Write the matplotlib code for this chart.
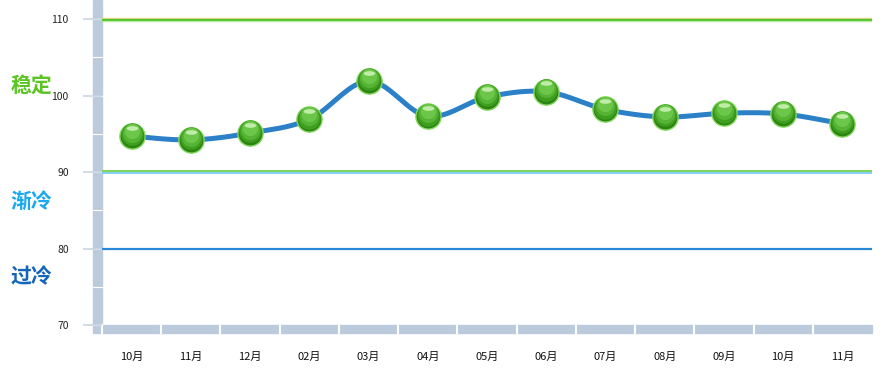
import numpy as np
import matplotlib
matplotlib.use('Agg')
import matplotlib.pyplot as plt
from matplotlib.patches import Rectangle
from matplotlib.path import Path
from matplotlib.transforms import offset_copy, blended_transform_factory, Affine2D

plt.rcParams['font.family'] = ['Noto Sans CJK SC', 'DejaVu Sans']

months = ['10月', '11月', '12月', '02月', '03月', '04月', '05月',
          '06月', '07月', '08月', '09月', '10月', '11月']
values = [94.7, 94.2, 95.1, 96.9, 101.9, 97.3, 99.8,
          100.5, 98.2, 97.2, 97.7, 97.6, 96.3]
y_ticks = [70, 80, 90, 100, 110]
zones = ['稳定', '渐冷', '过冷']
zone_colors = ['#5cc423', '#1aa8ee', '#1464b8']


def smooth(xs, ys, n=20):
    # catmull-rom through the points, only for drawing the spline
    xs = np.asarray(xs, float)
    ys = np.asarray(ys, float)
    px = np.concatenate([[xs[0]], xs, [xs[-1]]])
    py = np.concatenate([[ys[0]], ys, [ys[-1]]])
    out_x, out_y = [], []
    t = np.linspace(0, 1, n, endpoint=False)
    for i in range(1, len(px) - 2):
        for p, out in ((px, out_x), (py, out_y)):
            p0, p1, p2, p3 = p[i - 1], p[i], p[i + 1], p[i + 2]
            m1 = (p2 - p0) / 2
            m2 = (p3 - p1) / 2
            h00 = 2 * t**3 - 3 * t**2 + 1
            h10 = t**3 - 2 * t**2 + t
            h01 = -2 * t**3 + 3 * t**2
            h11 = t**3 - t**2
            out.extend(h00 * p1 + h10 * m1 + h01 * p2 + h11 * m2)
    out_x.append(xs[-1])
    out_y.append(ys[-1])
    return np.array(out_x), np.array(out_y)


W, H = 890, 379
fig = plt.figure(figsize=(W / 100, H / 100), dpi=100)
left, right, bottom = 102, 872, 325
ax = fig.add_axes([left / W, 1 - bottom / H, (right - left) / W, bottom / H])
ax.set_xlim(-0.5, len(months) - 0.5)
ax.set_ylim(70, 112.5)
for s in ax.spines.values():
    s.set_visible(False)

x = np.arange(len(months))

# gray axis bars
bar = '#bccbdc'
aw, ah = right - left, bottom
ax.add_patch(Rectangle((-9 / aw, -8 / ah), 9 / aw, 1 + 8 / ah, transform=ax.transAxes,
                       color=bar, clip_on=False, zorder=0))
ax.add_patch(Rectangle((0, -8 / ah), 1, 8 / ah, transform=ax.transAxes,
                       color=bar, clip_on=False, zorder=0))
tr_y = blended_transform_factory(ax.transAxes, ax.transData)
for v in range(70, 115, 5):
    ax.plot([-9 / aw, 0], [v, v], transform=tr_y, color='white', lw=0.8,
            clip_on=False, zorder=1)
tr_x = blended_transform_factory(ax.transData, ax.transAxes)
for k in range(len(months)):
    ax.plot([k - 0.5, k - 0.5], [-8 / ah, 0], transform=tr_x, color='white',
            lw=1.5, clip_on=False, zorder=1)

# threshold lines
ax.axhline(110.15, color='#f3d98c', lw=1.0, zorder=2)
ax.axhline(109.95, color='#4cc42a', lw=1.6, zorder=2)
ax.axhline(109.75, color='#b5e8a0', lw=1.0, zorder=2)
ax.axhline(90.08, color='#7dd35a', lw=1.4, zorder=2)
ax.axhline(89.88, color='#6cc8f2', lw=1.2, zorder=2)
ax.axhline(80, color='#2a88d6', lw=1.6, zorder=2)

# spline
sx, sy = smooth(x, values)
ax.plot(sx, sy, color='#2b80c8', lw=3.6, solid_capstyle='round', zorder=3)

# ball markers, layered to fake the gradient
ax.scatter(x, values, s=330, color='#2c8510', edgecolors='#86d862',
           linewidths=1.0, zorder=4)
layers = [(260, '#3f9e20', 1.2), (190, '#55b433', 2.4), (120, '#6cc64a', 3.6)]
for size, col, dy in layers:
    tr = offset_copy(ax.transData, fig=fig, x=0, y=dy, units='points')
    ax.scatter(x, values, s=size, color=col, linewidths=0, zorder=5, transform=tr)
band = Path.unit_circle().transformed(Affine2D().scale(1.0, 0.4))
hi = offset_copy(ax.transData, fig=fig, x=0, y=6.0, units='points')
ax.scatter(x, values, s=70, marker=band, color='#c9f1b2', alpha=0.9,
           linewidths=0, zorder=6, transform=hi)

# ticks
ax.set_yticks(y_ticks)
ax.set_yticklabels([str(v) for v in y_ticks], fontsize=7.5, color='#222222')
ax.tick_params(axis='y', length=14, width=1.2, color='#c8d5e2', pad=10)
ax.set_xticks(x)
ax.set_xticklabels(months, fontsize=8, color='#111111')
ax.tick_params(axis='x', length=0, pad=19)

# zone labels
for name, c, yy in zip(zones, zone_colors, [86, 201, 277]):
    fig.text(31 / W, 1 - yy / H, name, color=c, fontsize=15, fontweight='bold',
             ha='center', va='center')

fig.savefig('out.png', dpi=100)
